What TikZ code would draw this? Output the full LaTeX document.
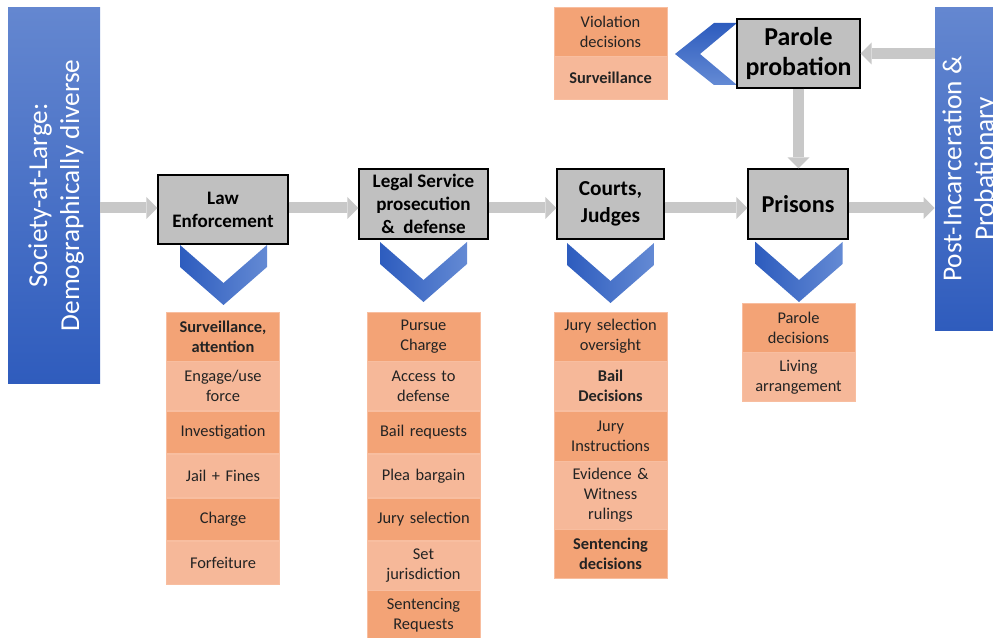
\documentclass[tikz,border=0pt]{standalone}
\usepackage{fontspec}
\setmainfont{Carlito}
\usetikzlibrary{positioning,arrows.meta}
\definecolor{barlight}{RGB}{100,135,208}
\definecolor{bardark}{RGB}{47,92,189}
\definecolor{chevdark}{RGB}{45,92,190}
\definecolor{chevlight}{RGB}{100,138,212}
\definecolor{boxgray}{RGB}{192,192,192}
\definecolor{arrowgray}{RGB}{200,200,200}
\definecolor{celldark}{RGB}{243,163,118}
\definecolor{celllight}{RGB}{246,184,153}
\definecolor{celledge}{RGB}{248,190,160}
\definecolor{celltext}{RGB}{35,35,35}

\begin{document}
\begin{tikzpicture}[x=0.75pt, y=-0.75pt,
	sidebar/.style={rectangle,draw=none,top color=barlight,bottom color=bardark},
	sidetext/.style={rotate=90,text=white,align=center,font=\fontsize{20.5}{24}\selectfont},
	stage/.style={rectangle,draw=black,line width=1pt,fill=boxgray,inner sep=1pt,align=center,font=\bfseries\fontsize{14.3}{17.25}\selectfont},
	cell/.style={rectangle,draw=celledge,line width=0.5pt,minimum width=84.5pt,text width=80pt,minimum height=32.1pt,inner xsep=2pt,inner ysep=1pt,align=center,text=celltext,font=\fontsize{12.3}{15}\selectfont},
	darkcell/.style={cell,fill=celldark},
	lightcell/.style={cell,fill=celllight},
	strong/.style={font=\bfseries\fontsize{12.3}{15}\selectfont},
	flowarrow/.style={draw=arrowgray,line width=8.25pt,-{Triangle[length=8.25pt,width=16.5pt,line width=0pt]}}
	]
	\useasboundingbox (0,0) rectangle (993,638);
	\clip (0,0) rectangle (993,638);
	\coordinate (axis) at (0,208);

	% side bars
	\node[sidebar,minimum width=69pt,minimum height=281.25pt] (society) at (54,195.5) {};
	\node[sidetext] at (56,195.5) {Society-at-Large:\\Demographically diverse};
	\node[sidebar,minimum width=54pt,minimum height=241.5pt] (post) at (971,169) {};
	\node[sidetext] at (970,169) {Post-Incarceration \&\\Probationary};

	% chevrons
	\foreach \cx/\ty in {223.5/245,423.5/242,610.5/243,799/242}
		\shade[left color=chevdark,right color=chevlight] (\cx-43.5,\ty) -- (\cx,\ty+38) -- (\cx+43.5,\ty) -- (\cx+43.5,\ty+22) -- (\cx,\ty+60) -- (\cx-43.5,\ty+22) -- cycle;
	\shade[top color=chevdark,bottom color=chevlight] (737,23) -- (714,23) -- (675,54) -- (714,85) -- (737,85) -- (700,54) -- cycle;

	% stages
	\node[stage,minimum width=97.5pt,minimum height=51.75pt] (law) at (223,209.5) {Law\\Enforcement};
	\node[stage,minimum width=96.75pt,minimum height=52.5pt] (legal) at (423.5,204) {Legal Service\\prosecution\\\& \ defense};
	\node[stage,minimum width=80.25pt,minimum height=52.5pt,font=\bfseries\fontsize{16}{20}\selectfont] (courts) at (610.5,204) {Courts,\\Judges};
	\node[stage,minimum width=75pt,minimum height=52.5pt,font=\bfseries\fontsize{18.2}{22}\selectfont] (prisons) at (798,204) {Prisons};
	\node[stage,minimum width=92.25pt,minimum height=51.75pt,font=\bfseries\fontsize{19.4}{22.5}\selectfont] (parole) at (798.5,53.5) {Parole\\probation};

	% law enforcement list
	\node[darkcell,strong,minimum height=36.5pt,anchor=north] (law1) at (223,312) {Surveillance,\\attention};
	\node[lightcell,minimum height=36.5pt,below=0pt of law1] (law2) {Engage/use\\force};
	\node[darkcell,below=0pt of law2] (law3) {Investigation};
	\node[lightcell,below=0pt of law3] (law4) {Jail + Fines};
	\node[darkcell,below=0pt of law4] (law5) {Charge};
	\node[lightcell,below=0pt of law5] (law6) {Forfeiture};

	% legal service list
	\node[darkcell,minimum height=36.5pt,anchor=north] (legal1) at (423.5,312) {Pursue\\Charge};
	\node[lightcell,minimum height=36.5pt,below=0pt of legal1] (legal2) {Access to\\defense};
	\node[darkcell,below=0pt of legal2] (legal3) {Bail requests};
	\node[lightcell,below=0pt of legal3] (legal4) {Plea bargain};
	\node[darkcell,below=0pt of legal4] (legal5) {Jury selection};
	\node[lightcell,minimum height=36.5pt,below=0pt of legal5] (legal6) {Set\\jurisdiction};
	\node[darkcell,minimum height=36.5pt,below=0pt of legal6] (legal7) {Sentencing\\Requests};

	% courts list
	\node[darkcell,minimum height=36.5pt,anchor=north] (court1) at (610.5,312) {Jury selection\\oversight};
	\node[lightcell,strong,minimum height=36.5pt,below=0pt of court1] (court2) {Bail\\Decisions};
	\node[darkcell,minimum height=37.5pt,below=0pt of court2] (court3) {Jury\\Instructions};
	\node[lightcell,minimum height=50.5pt,below=0pt of court3] (court4) {Evidence \&\\Witness\\rulings};
	\node[darkcell,strong,minimum height=36.5pt,below=0pt of court4] (court5) {Sentencing\\decisions};

	% prisons list
	\node[darkcell,minimum height=36.5pt,anchor=north] (prison1) at (798.5,303) {Parole\\decisions};
	\node[lightcell,minimum height=36.5pt,below=0pt of prison1] (prison2) {Living\\arrangement};

	% parole list
	\node[darkcell,minimum height=36.5pt,anchor=north] (parole1) at (610.5,7) {Violation\\decisions};
	\node[lightcell,strong,below=0pt of parole1] (parole2) {Surveillance};

	% flow
	\draw[flowarrow] (society.east |- axis) -- (law.west |- axis);
	\draw[flowarrow] (law.east |- axis) -- (legal.west |- axis);
	\draw[flowarrow] (legal.east |- axis) -- (courts.west |- axis);
	\draw[flowarrow] (courts.east |- axis) -- (prisons.west |- axis);
	\draw[flowarrow] (prisons.east |- axis) -- (post.west |- axis);
	\draw[flowarrow] (post.west |- parole.east) -- (parole.east);
	\draw[flowarrow] (parole.south) -- (parole.south |- prisons.north);
\end{tikzpicture}
\end{document}
